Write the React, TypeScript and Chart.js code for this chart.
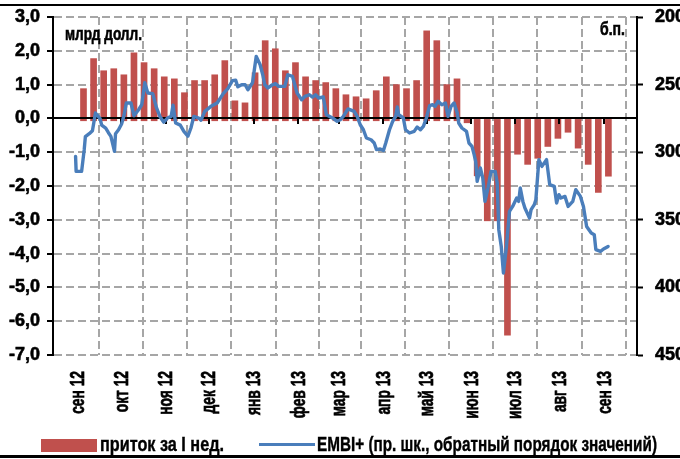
import React, { useEffect, useRef } from 'react';
import { Chart, registerables } from 'chart.js';

Chart.register(...registerables);

// ---- data ----
// month axis: tick positions are days counted from 1 Sep 2012
const monthLabels = ['сен 12', 'окт 12', 'ноя 12', 'дек 12', 'янв 13', 'фев 13', 'мар 13', 'апр 13', 'май 13', 'июн 13', 'июл 13', 'авг 13', 'сен 13'];
const monthStartDays = [0, 30, 61, 91, 122, 153, 181, 212, 242, 273, 303, 334, 365];

// weekly flows (bn USD), weeks ending on Wednesdays, first one 5 Sep 2012
const firstWeekDay = 4;
const flowValues = [
  0.88, 1.77, 1.41, 1.47, 1.29, 1.94, 1.65, 1.47, 1.23, 1.17,
  0.76, 1.12, 1.12, 1.29, 1.71, 0.52, 0.46, 1.35, 2.30, 2.06,
  1.41, 1.65, 1.23, 1.12, 1.06, 0.88, 0.70, 0.64, 0.58, 0.82,
  1.23, 1.00, 0.88, 1.12, 2.59, 2.30, 1.00, 1.17, -0.13, -1.70,
  -3.03, -3.03, -6.41, -1.06, -1.36, -1.18, -0.83, -0.59, -0.41, -0.88,
  -1.36, -2.19, -1.71,
];

// EMBI+ spread (b.p.), day offsets from 1 Sep 2012
const embiDays = [
  -1.5, -1.1, 2.7, 4.5, 5.3, 8.0, 10.2, 12.3, 15.5, 16.6,
  19.4, 21.3, 23.0, 25.5, 26.2, 28.3, 30.5, 32.2, 33.7, 36.9,
  39.0, 42.2, 44.4, 46.5, 48.6, 52.0, 54.6, 57.2, 59.7, 62.5,
  64.8, 66.1, 67.9, 71.1, 73.6, 76.4, 78.5, 80.5, 83.9, 85.5,
  88.1, 92.4, 96.7, 100.9, 104.1, 107.3, 109.5, 111.0, 113.7, 116.1,
  118.0, 121.2, 123.8, 126.5, 128.3, 129.7, 131.9, 135.1, 137.2, 139.3,
  143.6, 145.7, 148.9, 152.1, 155.3, 157.5, 160.7, 162.8, 164.9, 167.1,
  170.3, 172.4, 176.7, 179.9, 182.0, 184.2, 187.4, 191.7, 193.8, 195.9,
  198.1, 200.2, 203.4, 205.6, 207.2, 209.8, 212.0, 213.6, 216.2, 218.4,
  220.5, 221.6, 222.6, 225.8, 227.3, 230.1, 233.3, 235.4, 237.6, 239.7,
  241.8, 244.0, 246.1, 247.8, 249.9, 252.5, 255.0, 256.8, 258.9, 261.0,
  263.2, 264.2, 266.4, 269.6, 271.3, 273.4, 274.9, 276.0, 277.0, 279.2,
  280.9, 282.4, 284.5, 286.6, 289.5, 290.9, 292.0, 293.7, 295.2, 297.3,
  299.4, 301.6, 304.4, 305.8, 306.9, 308.7, 310.1, 313.3, 314.4, 316.6,
  317.7, 319.8, 321.9, 325.1, 327.3, 330.5, 332.1, 333.7, 335.1, 337.9,
  340.1, 343.3, 345.4, 348.6, 350.7, 352.9, 356.1, 358.2, 359.3, 362.5,
  364.6, 367.8,
];
const embiValues = [
  303.1, 314.2, 314.2, 298.1, 288.5, 286.3, 284.1, 271.0, 275.2, 280.0,
  282.2, 285.6, 288.3, 299.4, 286.3, 283.4, 278.9, 272.3, 263.6, 263.6,
  273.0, 268.6, 264.9, 248.6, 256.2, 256.7, 267.1, 274.0, 277.8, 274.5,
  273.5, 265.2, 278.4, 280.0, 284.6, 288.2, 282.1, 273.5, 274.7, 276.3,
  269.8, 266.1, 263.6, 256.7, 253.0, 247.1, 246.7, 251.6, 250.1, 250.1,
  253.8, 248.6, 229.1, 235.3, 242.7, 250.1, 252.5, 250.1, 249.3, 251.3,
  251.3, 242.7, 243.9, 256.2, 261.2, 258.7, 257.5, 259.2, 257.5, 259.9,
  259.2, 272.3, 274.7, 277.2, 276.0, 273.5, 268.0, 269.8, 273.5, 279.7,
  283.4, 289.5, 290.8, 293.2, 298.1, 297.6, 298.7, 293.2, 283.4, 277.2,
  273.5, 266.6, 272.3, 274.7, 283.4, 285.8, 284.6, 281.4, 283.4, 280.9,
  274.7, 265.6, 264.9, 266.1, 262.4, 264.9, 263.6, 273.5, 266.1, 263.6,
  271.0, 278.4, 282.1, 284.6, 293.2, 295.7, 301.8, 307.0, 321.6, 311.7,
  319.1, 336.4, 326.5, 314.2, 314.2, 322.8, 357.3, 369.7, 389.3, 369.7,
  343.8, 340.1, 333.9, 336.4, 326.5, 336.4, 341.3, 348.7, 342.5, 338.8,
  335.1, 305.5, 310.5, 305.5, 324.0, 325.3, 337.6, 331.4, 333.9, 332.7,
  340.1, 336.4, 327.7, 332.7, 340.1, 354.9, 359.8, 361.0, 372.1, 373.4,
  371.6, 369.7,
];

const flowLabel = 'приток за I нед.';
const embiLabel = 'EMBI+ (пр. шк., обратный порядок значений)';
const leftUnit = 'млрд долл.';
const rightUnit = 'б.п.';

// ---- style ----
const FONT = '"Liberation Sans", Arimo, Arial, sans-serif';
const RED = '#C0504D';
const BLUE = '#4A7EBB';
const GRID = '#A6A6A6';
const BAR_STUB = -0.07;
const CONDENSE = 0.72;

function drawFitted(ctx: CanvasRenderingContext2D, text: string, x: number, y: number, width: number, align: 'left' | 'right') {
  const w = ctx.measureText(text).width;
  const k = width / w;
  ctx.save();
  ctx.translate(x, y);
  ctx.scale(k, 1);
  ctx.textAlign = align;
  ctx.fillText(text, 0, 0);
  ctx.strokeText(text, 0, 0);
  ctx.restore();
}

const overlayPlugin = {
  id: 'overlay',
  afterDatasetDraw(chart: any, args: any) {
    if (args.meta.type !== 'bar') return;
    const { ctx, chartArea } = chart;
    const y0 = Math.round(chart.scales.y.getPixelForValue(0));
    ctx.save();
    ctx.strokeStyle = '#000';
    ctx.lineWidth = 2;
    ctx.beginPath();
    ctx.moveTo(chartArea.left, y0);
    ctx.lineTo(chartArea.right, y0);
    monthStartDays.forEach((d) => {
      if (d <= 0) return;
      const x = Math.round(chart.scales.x.getPixelForValue(d));
      ctx.moveTo(x, y0);
      ctx.lineTo(x, y0 + 6);
    });
    ctx.stroke();
    ctx.restore();
  },
  afterDraw(chart: any) {
    const { ctx, chartArea } = chart;
    ctx.save();
    ctx.fillStyle = '#000';
    ctx.strokeStyle = '#000';
    ctx.lineWidth = 0.6;
    ctx.textBaseline = 'alphabetic';
    ctx.font = `bold 18px ${FONT}`;
    drawFitted(ctx, leftUnit, chartArea.left + 12, chartArea.top + 23, 77, 'left');
    drawFitted(ctx, rightUnit, chartArea.right - 12, chartArea.top + 18, 25, 'right');

    // month labels, rotated, condensed along the text
    ctx.font = `bold 20px ${FONT}`;
    ctx.textBaseline = 'middle';
    ctx.textAlign = 'right';
    ctx.lineWidth = 0.7;
    const xs = chart.scales.x;
    monthStartDays.forEach((d, i) => {
      const x = xs.getPixelForValue(d);
      ctx.save();
      ctx.translate(x + 1, chartArea.bottom + 16);
      ctx.rotate(-Math.PI / 2);
      ctx.scale(0.69, 1);
      ctx.fillText(monthLabels[i], 0, 0);
      ctx.strokeText(monthLabels[i], 0, 0);
      ctx.restore();
    });
    ctx.restore();
  },
};

export default function App() {
  const canvasRef = useRef<HTMLCanvasElement | null>(null);
  const flowRef = useRef<HTMLSpanElement | null>(null);
  const embiRef = useRef<HTMLSpanElement | null>(null);

  useEffect(() => {
    const fit = (el: HTMLSpanElement | null, target: number) => {
      if (!el) return;
      const w = el.getBoundingClientRect().width;
      if (w > 0) el.style.transform = `scaleX(${target / w})`;
    };
    fit(flowRef.current, 124);
    fit(embiRef.current, 340);

    const canvas = canvasRef.current;
    if (!canvas) return;
    const barData = flowValues.map((v, i) => ({
      x: firstWeekDay + 7 * i,
      y: v > 0 ? [BAR_STUB, v] : [0, v],
    }));
    const lineData = embiDays.map((d, i) => ({ x: d, y: embiValues[i] }));
    const tickFont = { family: FONT, size: 18, weight: 'bold' as const };

    const chart = new Chart(canvas, {
      type: 'bar',
      data: {
        datasets: [
          {
            type: 'bar',
            label: flowLabel,
            data: barData as any,
            backgroundColor: RED,
            borderWidth: 0,
            barThickness: 6,
            yAxisID: 'y',
            order: 1,
          },
          {
            type: 'line',
            label: embiLabel,
            data: lineData as any,
            borderColor: BLUE,
            borderWidth: 3.4,
            pointRadius: 0,
            tension: 0,
            yAxisID: 'y1',
            order: 0,
            borderJoinStyle: 'round',
            borderCapStyle: 'round',
          } as any,
        ],
      },
      plugins: [overlayPlugin],
      options: {
        responsive: false,
        animation: false,
        devicePixelRatio: 1,
        layout: { padding: { top: 17, left: 0, right: 0, bottom: 0 } },
        plugins: { legend: { display: false }, tooltip: { enabled: false } },
        scales: {
          x: {
            type: 'linear',
            position: 'bottom',
            min: -1.57,
            max: 372.26,
            afterBuildTicks: (s: any) => {
              s.ticks = monthStartDays.map((v) => ({ value: v }));
            },
            afterFit: (s: any) => {
              s.height = 104;
              s.paddingLeft = 0;
              s.paddingRight = 0;
            },
            ticks: { display: false, autoSkip: false },
            grid: {
              color: (c: any) => (c.tick && c.tick.value === 0 ? 'rgba(0,0,0,0)' : GRID),
              lineWidth: 2,
              drawTicks: false,
            },
            border: { display: false, dash: [8, 4] },
          },
          y: {
            type: 'linear',
            position: 'left',
            min: -7,
            max: 3,
            afterFit: (s: any) => {
              s.width = 53;
              s.paddingTop = 0;
              s.paddingBottom = 0;
            },
            ticks: {
              stepSize: 1,
              padding: 7,
              color: '#000',
              font: tickFont,
              textStrokeColor: '#000',
              textStrokeWidth: 0.6,
              callback: (v: any) => Number(v).toFixed(1).replace('.', ','),
            },
            grid: { color: GRID, lineWidth: 2, tickColor: '#000', tickLength: 6, tickWidth: 2 },
            border: { display: true, color: '#000', width: 2, dash: [8, 4] },
          },
          y1: {
            type: 'linear',
            position: 'right',
            min: 200,
            max: 450,
            reverse: true,
            afterFit: (s: any) => {
              s.width = 63;
              s.paddingTop = 0;
              s.paddingBottom = 0;
            },
            ticks: { stepSize: 50, padding: 12, color: '#000', font: tickFont, textStrokeColor: '#000', textStrokeWidth: 0.6 },
            grid: { drawOnChartArea: false, tickColor: '#000', tickLength: 6, tickWidth: 2 },
            border: { display: true, color: '#000', width: 2 },
          },
        } as any,
      },
    });
    return () => chart.destroy();
  }, []);

  const legendText: React.CSSProperties = {
    position: 'absolute',
    top: 433,
    fontFamily: FONT,
    fontSize: 20,
    fontWeight: 'bold',
    whiteSpace: 'pre',
    color: '#000',
    lineHeight: '22px',
    transformOrigin: '0 0',
    display: 'inline-block',
    WebkitTextStroke: '0.4px #000',
  };

  return (
    <div style={{ position: 'fixed', left: 0, top: 0, width: 680, height: 459, overflow: 'hidden', background: '#fff' }}>
      <div style={{ position: 'absolute', left: 0, top: 4, width: 680, height: 2, background: '#000' }} />
      <canvas
        ref={canvasRef}
        width={700}
        height={459}
        style={{ position: 'absolute', left: 0, top: 0, width: 700, height: 459 }}
      />
      <div style={{ position: 'absolute', left: 41, top: 439, width: 56, height: 13, background: RED }} />
      <span ref={flowRef} style={{ ...legendText, left: 100 }}>{flowLabel}</span>
      <div style={{ position: 'absolute', left: 259, top: 443, width: 56, height: 3, background: BLUE }} />
      <span ref={embiRef} style={{ ...legendText, left: 317 }}>{embiLabel}</span>
      <div style={{ position: 'absolute', left: 0, top: 455, width: 680, height: 3, background: '#000' }} />
    </div>
  );
}
